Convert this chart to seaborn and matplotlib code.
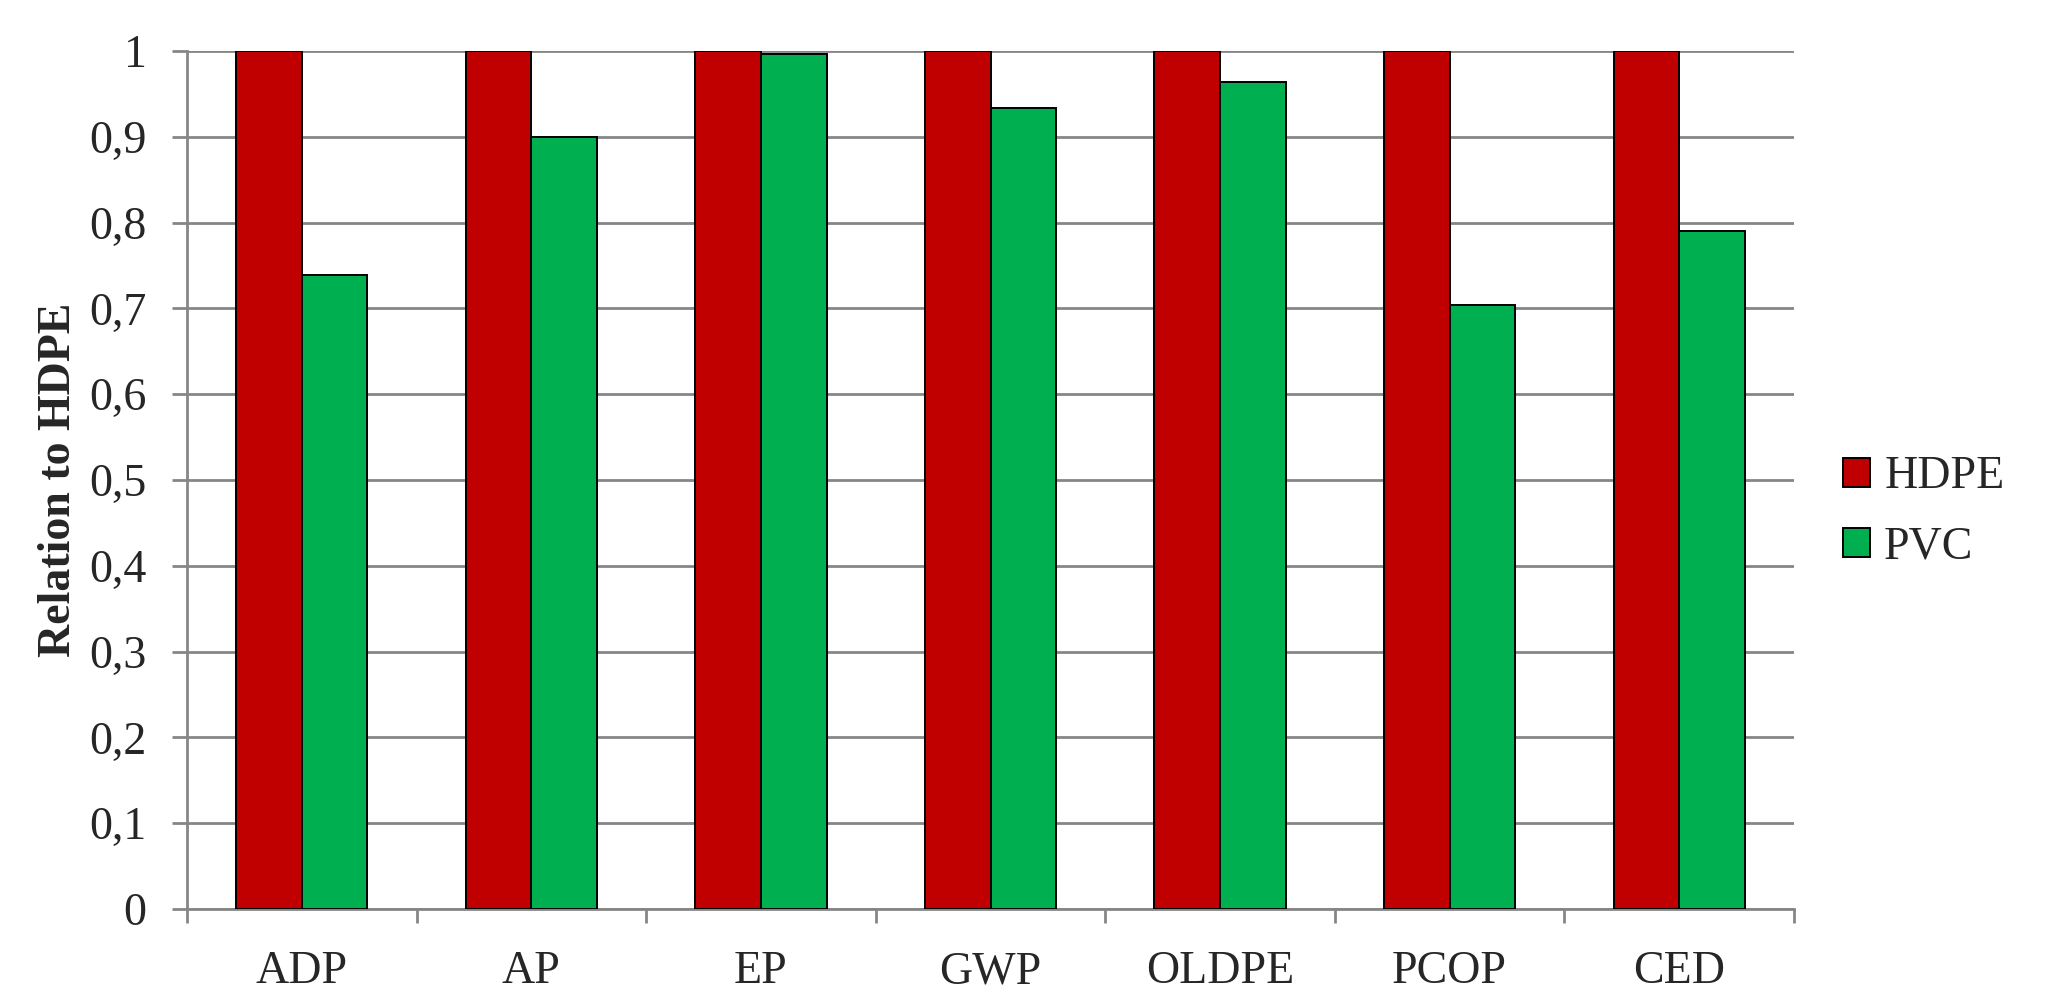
import matplotlib
matplotlib.use("Agg")
import matplotlib.pyplot as plt
import seaborn as sns
import pandas as pd
from matplotlib.patches import Patch

categories = ["ADP", "AP", "EP", "GWP", "OLDPE", "PCOP", "CED"]
hdpe = [1, 1, 1, 1, 1, 1, 1]
pvc = [0.739, 0.900, 0.997, 0.933, 0.964, 0.704, 0.790]
series = ["HDPE", "PVC"]
colors = ["#C00000", "#00B050"]
yticks = [0, 0.1, 0.2, 0.3, 0.4, 0.5, 0.6, 0.7, 0.8, 0.9, 1.0]
ytick_labels = ["0", "0,1", "0,2", "0,3", "0,4", "0,5", "0,6", "0,7", "0,8", "0,9", "1"]

df = pd.DataFrame({
    "Category": categories * 2,
    "Value": hdpe + pvc,
    "Series": ["HDPE"] * len(categories) + ["PVC"] * len(categories),
})

sns.set_theme(style="white")
plt.rcParams["font.family"] = ["Liberation Serif", "DejaVu Serif"]

fig = plt.figure(figsize=(20.49, 9.93), dpi=100)
ax = fig.add_axes([187 / 2049, 1 - 909 / 993, (1794 - 187) / 2049, (909 - 51) / 993])

sns.barplot(data=df, x="Category", y="Value", hue="Series", hue_order=series,
            palette=colors, saturation=1, width=0.572, gap=0, edgecolor="black", linewidth=1.4,
            ax=ax, legend=False, zorder=3)

grid_c = "#868686"
ax.set_ylim(0, 1)
ax.set_xlim(-0.5, len(categories) - 0.5)
ax.set_yticks(yticks)
ax.set_yticklabels(ytick_labels)
ax.yaxis.grid(True, color=grid_c, linewidth=2, zorder=0)
ax.set_axisbelow(True)

ax.set_xticks([i + 0.5 for i in range(-1, len(categories))], minor=False)
ax.set_xticklabels([""] * (len(categories) + 1))
ax.set_xticks(range(len(categories)), minor=True)
ax.set_xticklabels(categories, minor=True)
ax.tick_params(axis="x", which="major", direction="out", length=10, width=2, color=grid_c, bottom=True)
ax.tick_params(axis="x", which="minor", length=0, pad=30, labelsize=33, bottom=True)
ax.tick_params(axis="y", direction="out", length=11, width=2, color=grid_c, pad=18, labelsize=33, left=True)

for s in ["top", "right"]:
    ax.spines[s].set_visible(False)
for s in ["left", "bottom"]:
    ax.spines[s].set_color(grid_c)
    ax.spines[s].set_linewidth(2)

ax.set_xlabel("")
ax.set_ylabel("Relation to HDPE", fontsize=33, fontweight="bold", labelpad=7)

handles = [Patch(facecolor=c, edgecolor="black", linewidth=1.4, label=l) for c, l in zip(colors, series)]
fig.legend(handles=handles, loc="center left", bbox_to_anchor=(1820 / 2049, 1 - 512 / 993),
           frameon=False, fontsize=33, handlelength=0.6, handleheight=0.6,
           handletextpad=0.3, labelspacing=0.6, borderpad=0)

fig.savefig("out.png", dpi=100)
